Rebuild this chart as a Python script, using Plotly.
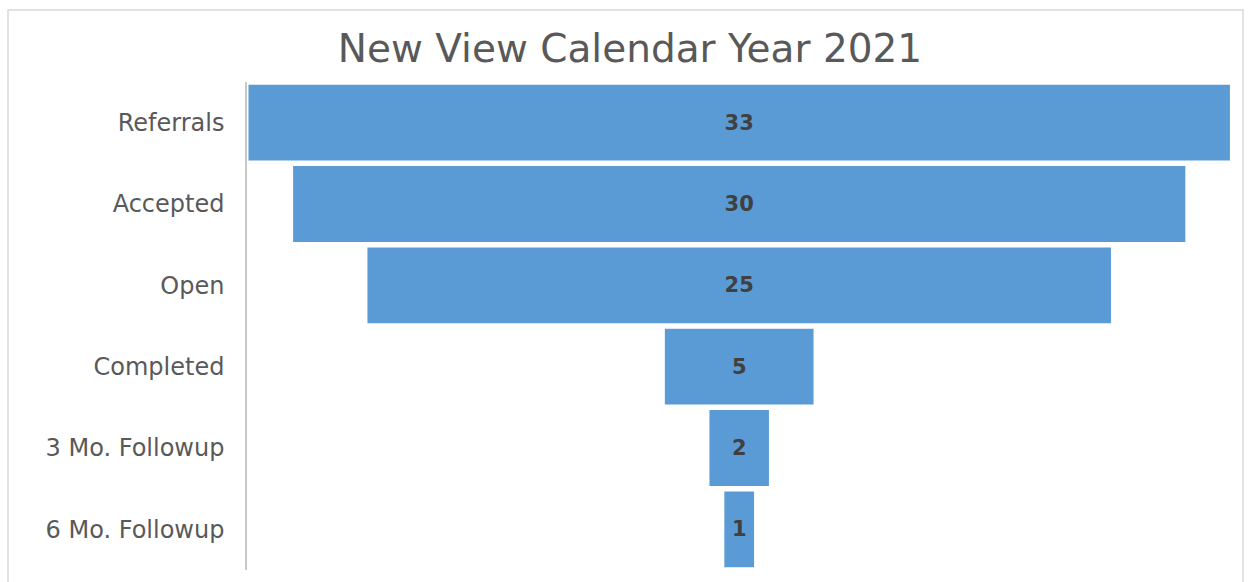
import plotly.graph_objects as go

# Funnel stages and counts for calendar year 2021
stages = ["Referrals", "Accepted", "Open", "Completed", "3 Mo. Followup", "6 Mo. Followup"]
counts = [33, 30, 25, 5, 2, 1]

title_text = "New View Calendar Year 2021"

bar_color = "#5B9BD5"
label_color = "#595959"
value_color = "#404040"
font_family = "DejaVu Sans"

W, H = 1250, 582
m_l, m_r, m_t, m_b = 247, 18, 82, 12

fig = go.Figure(
    go.Funnel(
        y=stages,
        x=counts,
        orientation="h",
        marker=dict(color=bar_color, line=dict(width=0)),
        connector=dict(visible=False),
        textinfo="value",
        textposition="inside",
        insidetextanchor="middle",
        textfont=dict(family=font_family, size=21, color=value_color, weight="bold"),
        constraintext="none",
        hoverinfo="y+x",
    )
)

# outer chart border
fig.add_shape(
    type="rect",
    xref="paper", yref="paper",
    x0=(8 - m_l) / (W - m_l - m_r),
    x1=(1243 - m_l) / (W - m_l - m_r),
    y0=(H - m_b - 600) / (H - m_t - m_b),
    y1=(H - m_b - 10) / (H - m_t - m_b),
    line=dict(color="#d9d9d9", width=1.5),
    fillcolor="rgba(0,0,0,0)",
    layer="below",
)

fig.update_layout(
    width=W,
    height=H,
    margin=dict(l=m_l, r=m_r, t=m_t, b=m_b),
    paper_bgcolor="white",
    plot_bgcolor="white",
    showlegend=False,
    funnelgap=0.068,
    title=dict(
        text=title_text,
        font=dict(family=font_family, size=39, color=label_color),
        x=0.504, xref="container", xanchor="center",
        y=1 - 48 / H, yref="container", yanchor="middle",
    ),
    xaxis=dict(
        range=[-16.55, 16.57],
        visible=False,
        fixedrange=True,
    ),
    yaxis=dict(
        type="category",
        categoryorder="array",
        categoryarray=stages,
        range=[5.5, -0.5],
        showline=True,
        linecolor="#c8c8c8",
        linewidth=1.5,
        showgrid=False,
        zeroline=False,
        ticks="",
        ticklabelstandoff=16,
        tickfont=dict(family=font_family, size=24, color=label_color),
        fixedrange=True,
    ),
)

fig.write_html("out.html")
